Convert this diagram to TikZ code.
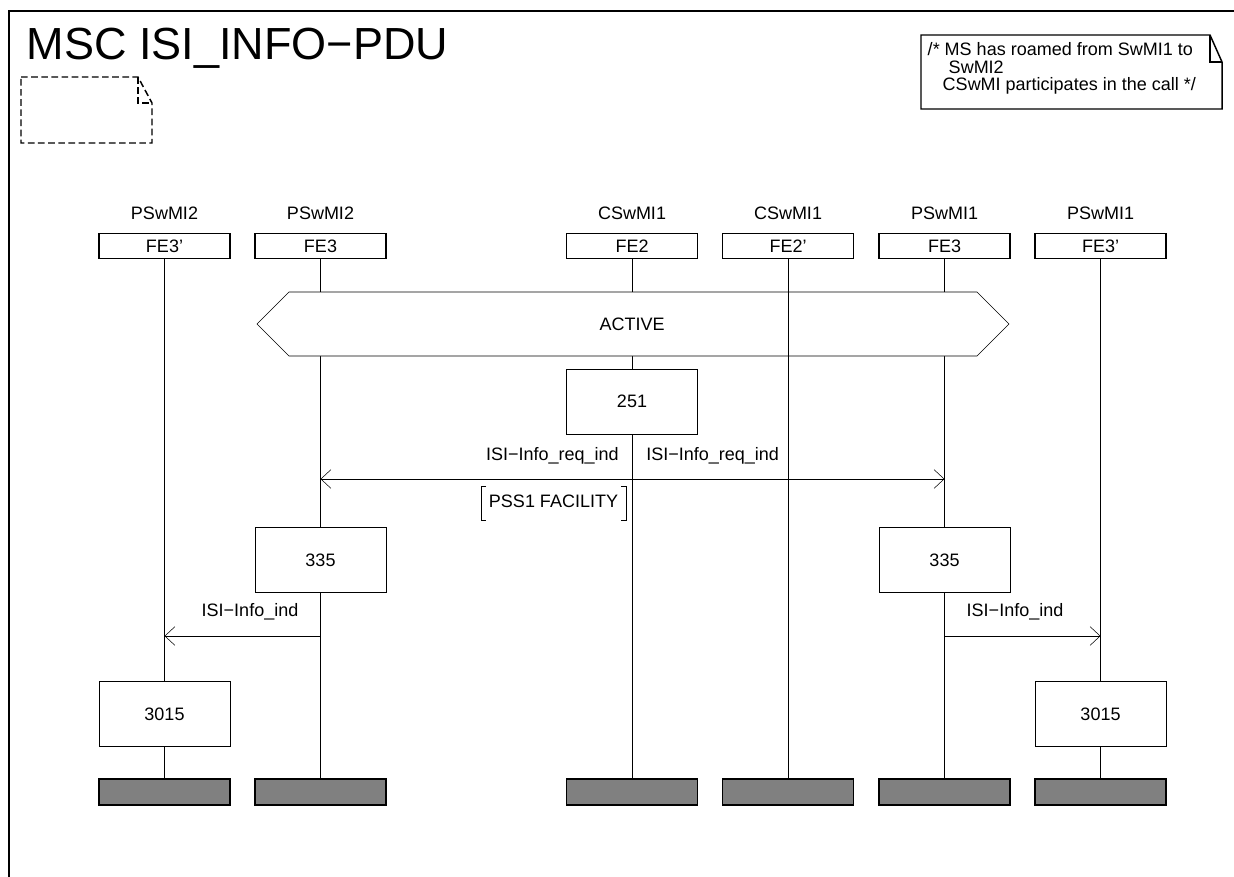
\documentclass[tikz,border=0pt]{standalone}
\usepackage{fontspec}
\setmainfont{Liberation Sans}
\usetikzlibrary{arrows.meta}
\definecolor{barfill}{HTML}{808080}
\pgfdeclarelayer{bg}
\pgfsetlayers{bg,main}
\begin{document}
\begin{tikzpicture}[x=0.75pt,y=-0.75pt, line width=1.1pt,
  every node/.style={font=\fontsize{13.5}{13}\selectfont},
  hdr/.style={draw, fill=white, minimum width=98pt, minimum height=19pt, inner sep=0},
  act/.style={draw, fill=white, minimum width=98pt, minimum height=48.5pt, inner sep=0},
  endbar/.style={draw, fill=barfill, minimum width=98pt, minimum height=19.5pt, inner sep=0},
  msg/.style={-{Straight Barb[length=7.5pt,width=14pt]}},
  txt/.style={inner sep=0, anchor=base}]
\path[use as bounding box] (0,0) rectangle (1234,877);
% frame
\draw[line width=1.3pt] (9,880) -- (9,11) -- (1240,11);
% title
\node[inner sep=0, anchor=base west, font=\fontsize{33.75}{40}\selectfont] (title) at (26,60) {MSC ISI\_INFO−PDU};
% dashed document symbol
\draw[dash pattern=on 5pt off 2.6pt] (21,77) -- (138,77) -- (152,103) -- (152,143) -- (21,143) -- cycle;
\draw[dash pattern=on 5pt off 2.6pt] (138,77) -- (138,103) -- (152,103);
% comment
\draw (921,35) -- (1210,35) -- (1222,62) -- (1222,109) -- (921,109) -- cycle;
\draw (1210,35) -- (1210,62) -- (1222,62);
\node[inner sep=0, anchor=base west] (c1) at (927,56) {/* MS has roamed from SwMI1 to};
\node[inner sep=0, anchor=base west] (c2) at (948,73.5) {SwMI2};
\node[inner sep=0, anchor=base west] (c3) at (942,91) {CSwMI participates in the call */};
% instance labels
\node[txt] (l1) at (164.5,219.5) {PSwMI2};
\node[txt] (l2) at (320.5,219.5) {PSwMI2};
\node[txt] (l3) at (632,219.5) {CSwMI1};
\node[txt] (l4) at (788,219.5) {CSwMI1};
\node[txt] (l5) at (944.5,219.5) {PSwMI1};
\node[txt] (l6) at (1100.5,219.5) {PSwMI1};
% header boxes
\node[hdr] (h1) at (164.5,246) {FE3'};
\node[hdr] (h2) at (320.5,246) {FE3};
\node[hdr] (h3) at (632,246) {FE2};
\node[hdr] (h4) at (788,246) {FE2'};
\node[hdr] (h5) at (944.5,246) {FE3};
\node[hdr] (h6) at (1100.5,246) {FE3'};
% end bars
\node[endbar] (e1) at (164.5,792) {};
\node[endbar] (e2) at (320.5,792) {};
\node[endbar] (e3) at (632,792) {};
\node[endbar] (e4) at (788,792) {};
\node[endbar] (e5) at (944.5,792) {};
\node[endbar] (e6) at (1100.5,792) {};
% lifelines
\begin{pgfonlayer}{bg}
\draw (h1.south) -- (e1.north);
\draw (h2.south) -- (e2.north);
\draw (h3.south) -- (e3.north);
\draw (h5.south) -- (e5.north);
\draw (h6.south) -- (e6.north);
\end{pgfonlayer}
% condition ACTIVE
\draw[fill=white] (257,324) -- (289,292) -- (977,292) -- (1009,324) -- (977,356) -- (289,356) -- cycle;
\node[inner sep=0] (active) at (632,324) {ACTIVE};
\draw (h4.south) -- (e4.north);
% actions
\node[act] (a251) at (632,401.5) {251};
\node[act] (a335l) at (320.5,560) {335};
\node[act] (a335r) at (944.5,560) {335};
\node[act] (a3015l) at (164.5,714) {3015};
\node[act] (a3015r) at (1100.5,714) {3015};
% messages
\coordinate (m1) at (632,479);
\draw[msg] (m1) -- (m1 -| h2);
\draw[msg] (m1) -- (m1 -| h5);
\node[inner sep=0, anchor=base east] (m1l) at (619,460) {ISI−Info\_req\_ind};
\node[inner sep=0, anchor=base west] (m1r) at (646,460) {ISI−Info\_req\_ind};
\node[txt] (pss) at (553.5,507) {PSS1 FACILITY};
\draw (486,486) -| (481,520) -- (486,520);
\draw (621,486) -| (626,520) -- (621,520);
\coordinate (m2) at (320.5,636);
\draw[msg] (m2) -- (m2 -| h1);
\node[txt] (m2l) at (250,616) {ISI−Info\_ind};
\coordinate (m3) at (944.5,636);
\draw[msg] (m3) -- (m3 -| h6);
\node[txt] (m3l) at (1015,616) {ISI−Info\_ind};
\end{tikzpicture}
\end{document}
